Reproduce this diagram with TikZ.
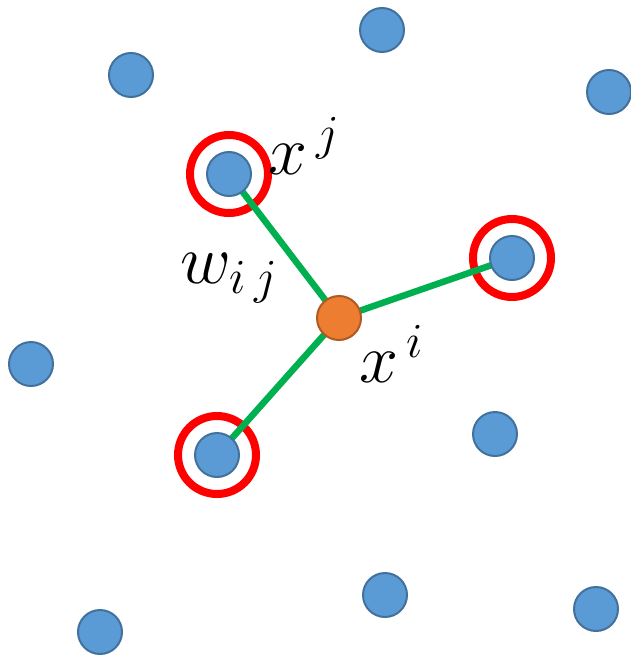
\documentclass[tikz,border=0pt]{standalone}
\usepackage{fix-cm}
\definecolor{nodeblue}{HTML}{5B9BD5}
\definecolor{nodeblueline}{HTML}{41719C}
\definecolor{nodeorange}{HTML}{ED7D31}
\definecolor{nodeorangeline}{HTML}{AE5A21}
\definecolor{edgegreen}{HTML}{00B050}
\definecolor{ringred}{HTML}{FF0000}
\begin{document}
\begin{tikzpicture}[x=1pt,y=-1pt,
  pt/.style={circle,draw=nodeblueline,fill=nodeblue,line width=2pt,minimum size=44pt,inner sep=0pt},
  center/.style={circle,draw=nodeorangeline,fill=nodeorange,line width=2pt,minimum size=44pt,inner sep=0pt},
  ring/.style={circle,draw=ringred,line width=8pt,minimum size=78pt,inner sep=0pt},
  edge/.style={draw=edgegreen,line width=6.5pt},
  lab/.style={inner sep=0pt,font=\fontsize{70}{80}\selectfont}]
\useasboundingbox (0,0) rectangle (631,658);
\clip (0,0) rectangle (631,658);
% rings
\node[ring] (rj) at (229,174) {};
\node[ring] (rk) at (512,258) {};
\node[ring] (rl) at (217,455) {};
% edges (under the nodes)
\coordinate (cj) at (229,174);
\coordinate (ck) at (512,258);
\coordinate (cl) at (217,455);
\coordinate (ci) at (339,318);
\draw[edge] (ci) -- (cj);
\draw[edge] (ci) -- (ck);
\draw[edge] (ci) -- (cl);
% blue points
\node[pt] (a1) at (382,30) {};
\node[pt] (a2) at (131,75) {};
\node[pt] (a3) at (609,92) {};
\node[pt] (xj) at (229,174) {};
\node[pt] (xk) at (512,258) {};
\node[pt] (a4) at (31,364) {};
\node[pt] (a5) at (495,434) {};
\node[pt] (xl) at (217,455) {};
\node[pt] (a6) at (385,595) {};
\node[pt] (a7) at (596,609) {};
\node[pt] (a8) at (100,632) {};
% centre point
\node[center] (xi) at (339,318) {};
% labels
\node[lab] (lj) at (304,146) {$x^{\,j}$};
\node[lab] (lw) at (229,278) {$w_{i\,j}$};
\node[lab] (li) at (391,354) {$x^{\,i}$};
\end{tikzpicture}
\end{document}
